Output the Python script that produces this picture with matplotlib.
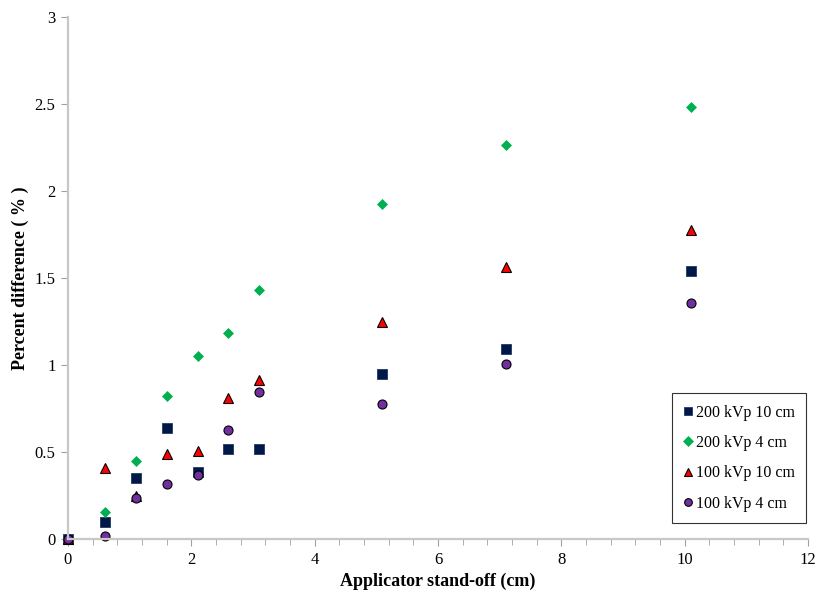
import matplotlib
matplotlib.use('Agg')
from matplotlib import pyplot as plt
from matplotlib.ticker import MultipleLocator

plt.rcParams['font.family'] = ['Liberation Serif', 'DejaVu Serif']

# stand-off distances (cm)
standoff = [0, 0.6, 1.1, 1.6, 2.1, 2.6, 3.1, 5.1, 7.1, 10.1]

# percent differences per beam
kv200_10cm = [0, 0.10, 0.35, 0.64, 0.385, 0.515, 0.52, 0.95, 1.09, 1.54]
kv200_4cm = [0, 0.155, 0.45, 0.82, 1.05, 1.185, 1.43, 1.925, 2.265, 2.48]
kv100_10cm = [0, 0.41, 0.245, 0.49, 0.505, 0.81, 0.915, 1.25, 1.565, 1.775]
kv100_4cm = [0, 0.02, 0.235, 0.315, 0.365, 0.625, 0.845, 0.775, 1.005, 1.355]

series_names = ['200 kVp 10 cm', '200 kVp 4 cm', '100 kVp 10 cm', '100 kVp 4 cm']

fig = plt.figure(figsize=(8.17, 5.93), dpi=100)
ax = fig.add_axes([68 / 817, 54 / 593, 740 / 817, 522 / 593])

ax.plot(standoff, kv200_10cm, linestyle='none', marker='s', markersize=6.5,
        markerfacecolor='#001848', markeredgecolor='#203864', markeredgewidth=0.6,
        label=series_names[0], clip_on=False)
ax.plot(standoff, kv200_4cm, linestyle='none', marker='D', markersize=5.5,
        markerfacecolor='#00b050', markeredgecolor='#00b050', markeredgewidth=0.5,
        label=series_names[1], clip_on=False)
ax.plot(standoff, kv100_10cm, linestyle='none', marker='^', markersize=7,
        markerfacecolor='#ff0000', markeredgecolor='black', markeredgewidth=0.8,
        label=series_names[2], clip_on=False)
ax.plot(standoff, kv100_4cm, linestyle='none', marker='o', markersize=6.5,
        markerfacecolor='#7030a0', markeredgecolor='black', markeredgewidth=0.8,
        label=series_names[3], clip_on=False)

ax.set_xlim(0, 12)
ax.set_ylim(0, 3)
ax.xaxis.set_major_locator(MultipleLocator(2))
ax.xaxis.set_minor_locator(MultipleLocator(0.4))
ax.set_yticks([0, 0.5, 1, 1.5, 2, 2.5, 3])
ax.set_yticklabels(['0', '0.5', '1', '1.5', '2', '2.5', '3'])

for side in ['top', 'right']:
    ax.spines[side].set_visible(False)
for side in ['left', 'bottom']:
    ax.spines[side].set_color('#c8c8c8')
    ax.spines[side].set_linewidth(1.6)

ax.tick_params(axis='both', which='major', direction='out', length=5,
               color='#a0a0a0', labelsize=12, pad=4)
ax.tick_params(axis='x', which='minor', direction='out', length=4, color='#a0a0a0')

ax.set_xlabel('Applicator stand-off (cm)', fontsize=13, fontweight='bold', labelpad=4)
ax.set_ylabel('Percent difference ( % )', fontsize=13, fontweight='bold', labelpad=4)

leg = ax.legend(loc='lower right', bbox_to_anchor=(0.997, 0.031), borderaxespad=0,
                fontsize=11.5, frameon=True, fancybox=False, edgecolor='black',
                handlelength=0.6, handletextpad=0.2, labelspacing=0.9,
                borderpad=0.7, markerscale=0.85)
leg.get_frame().set_linewidth(0.8)

fig.savefig('out.png', dpi=100)
